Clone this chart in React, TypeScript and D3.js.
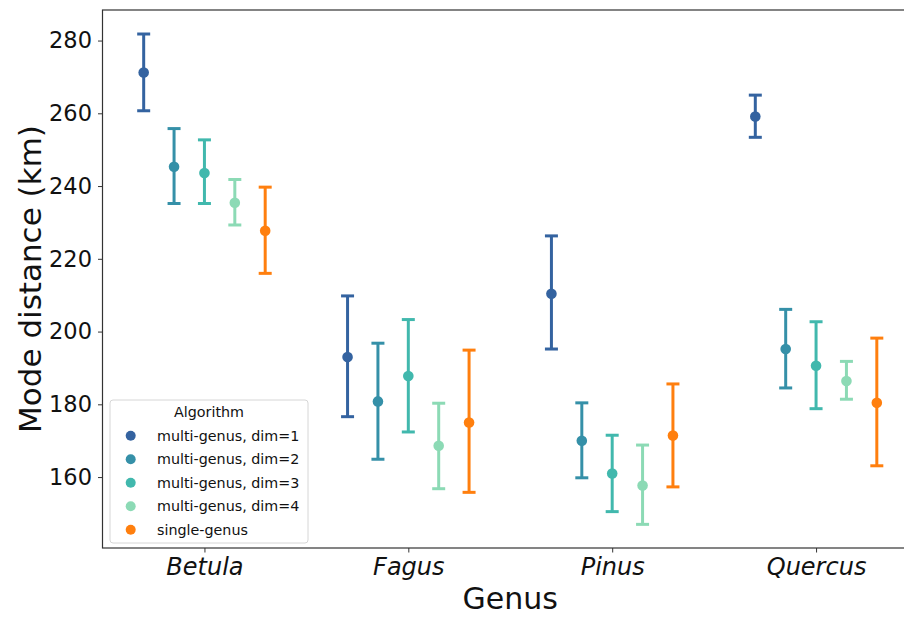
import * as d3 from "d3";
import { useEffect, useRef } from "react";

const genera = ["Betula", "Fagus", "Pinus", "Quercus"];
const algorithms = [
  "multi-genus, dim=1",
  "multi-genus, dim=2",
  "multi-genus, dim=3",
  "multi-genus, dim=4",
  "single-genus",
];
const colors = ["#3463a0", "#3590a8", "#41b8ad", "#8cdab5", "#ff7f0e"];

// per algorithm, values in genus order
const means = [
  [271.2, 193.0, 210.4, 259.1],
  [245.3, 180.8, 170.0, 195.2],
  [243.6, 187.8, 161.0, 190.6],
  [235.4, 168.6, 157.7, 186.4],
  [227.7, 175.0, 171.4, 180.4],
];
const lows = [
  [260.7, 176.6, 195.2, 253.4],
  [235.2, 164.9, 159.8, 184.5],
  [235.2, 172.4, 150.5, 178.8],
  [229.3, 156.8, 147.0, 181.4],
  [216.0, 155.8, 157.3, 163.1],
];
const highs = [
  [281.8, 209.8, 226.3, 265.0],
  [255.8, 196.8, 180.4, 206.1],
  [252.7, 203.3, 171.5, 202.7],
  [241.8, 180.3, 168.8, 191.8],
  [239.7, 194.9, 185.6, 198.2],
];
const yTicks = [160, 180, 200, 220, 240, 260, 280];

const App = () => {
  const width = 904;
  const height = 618;
  const margin = { top: 10, left: 102.5, right: -14, bottom: 70 };
  const ref = useRef(null);

  useEffect(() => {
    if (!ref.current) return;
    const svg = d3.select(ref.current);
    svg.selectAll("*").remove();
    const font = "DejaVu Sans, sans-serif";

    const x = d3
      .scaleLinear()
      .domain([-0.5, genera.length - 0.5])
      .range([margin.left, width - margin.right]);
    const y = d3
      .scaleLinear()
      .domain([140.5, 288.4])
      .range([height - margin.bottom, margin.top]);
    const dodge = 0.149;

    const plot = svg.append("g");

    algorithms.forEach((alg, a) => {
      const g = plot.append("g");
      const off = (a - 2) * dodge;
      genera.forEach((gen, i) => {
        const cx = x(i + off);
        g.append("line")
          .attr("x1", cx)
          .attr("x2", cx)
          .attr("y1", y(lows[a][i]))
          .attr("y2", y(highs[a][i]))
          .attr("stroke", colors[a])
          .attr("stroke-width", 3);
        [lows[a][i], highs[a][i]].forEach((v) => {
          g.append("line")
            .attr("x1", cx - 6.5)
            .attr("x2", cx + 6.5)
            .attr("y1", y(v))
            .attr("y2", y(v))
            .attr("stroke", colors[a])
            .attr("stroke-width", 3);
        });
        g.append("circle")
          .attr("cx", cx)
          .attr("cy", y(means[a][i]))
          .attr("r", 5.3)
          .attr("fill", colors[a]);
      });
    });

    // axes
    const yAxis = svg
      .append("g")
      .attr("transform", `translate(${margin.left},0)`)
      .call(d3.axisLeft(y).tickValues(yTicks).tickSize(4.5).tickPadding(6));
    yAxis.select(".domain").remove();
    yAxis
      .selectAll("text")
      .attr("font-family", font)
      .attr("font-size", 22.5)
      .attr("fill", "#111");
    yAxis.selectAll("line").attr("stroke", "#333");

    const xAxis = svg
      .append("g")
      .attr("transform", `translate(0,${height - margin.bottom})`)
      .call(
        d3
          .axisBottom(x)
          .tickValues(genera.map((_, i) => i))
          .tickFormat((d) => genera[d as number])
          .tickSize(4.5)
          .tickPadding(5)
      );
    xAxis.select(".domain").remove();
    xAxis
      .selectAll("text")
      .attr("font-family", font)
      .attr("font-size", 24)
      .attr("font-style", "italic")
      .attr("fill", "#111");
    xAxis.selectAll("line").attr("stroke", "#333");

    // frame
    svg
      .append("rect")
      .attr("x", margin.left)
      .attr("y", margin.top)
      .attr("width", width - margin.right - margin.left)
      .attr("height", height - margin.bottom - margin.top)
      .attr("fill", "none")
      .attr("stroke", "#333")
      .attr("stroke-width", 1.2);

    svg
      .append("text")
      .attr("x", x(1.5))
      .attr("y", 609)
      .attr("text-anchor", "middle")
      .attr("font-family", font)
      .attr("font-size", 30)
      .attr("fill", "#111")
      .text("Genus");

    svg
      .append("text")
      .attr("transform", `translate(41,${(margin.top + height - margin.bottom) / 2}) rotate(-90)`)
      .attr("text-anchor", "middle")
      .attr("font-family", font)
      .attr("font-size", 31)
      .attr("fill", "#111")
      .text("Mode distance (km)");

    // legend
    const legend = svg.append("g").attr("transform", "translate(110,400)");
    legend
      .append("rect")
      .attr("width", 198)
      .attr("height", 143)
      .attr("rx", 3)
      .attr("fill", "white")
      .attr("fill-opacity", 0.8)
      .attr("stroke", "#d6d6d6");
    legend
      .append("text")
      .attr("x", 99)
      .attr("y", 17)
      .attr("text-anchor", "middle")
      .attr("font-family", font)
      .attr("font-size", 14.3)
      .attr("fill", "#111")
      .text("Algorithm");
    algorithms.forEach((alg, a) => {
      const ly = 35.7 + a * 23.5;
      legend
        .append("circle")
        .attr("cx", 20.7)
        .attr("cy", ly)
        .attr("r", 5)
        .attr("fill", colors[a]);
      legend
        .append("text")
        .attr("x", 47)
        .attr("y", ly + 5)
        .attr("font-family", font)
        .attr("font-size", 14.3)
        .attr("fill", "#111")
        .text(alg);
    });
  }, []);

  return (
    <svg
      width={width}
      height={height}
      ref={ref}
      style={{ position: "absolute", left: 0, top: 0, background: "white" }}
    ></svg>
  );
};

export default App;
